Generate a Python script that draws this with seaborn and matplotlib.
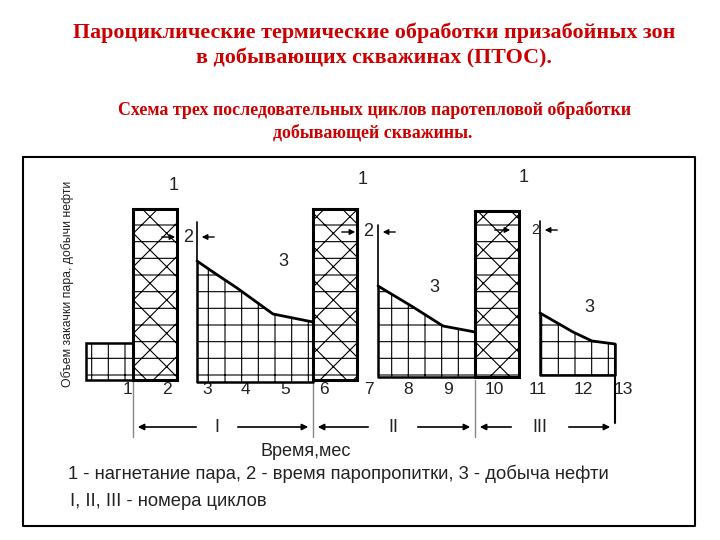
import matplotlib
matplotlib.use("Agg")
import matplotlib.pyplot as plt
import seaborn as sns
import numpy as np

sns.set_theme(style="white")
plt.rcParams['font.family'] = ['Liberation Sans', 'DejaVu Sans']
plt.rcParams['hatch.linewidth'] = 0.8

# ---- data (schematic units: x = time, y = level measured downward on the sheet) ----
title_lines = ["Пароциклические термические обработки призабойных зон",
               "в добывающих скважинах (ПТОС)."]
subtitle_lines = ["Схема трех последовательных циклов паротепловой обработки",
                  "добывающей скважины."]
ylabel = "Объем закачки пара, добычи нефти"
xlabel = "Время,мес"
legend_lines = ["1 - нагнетание пара, 2 - время паропропитки, 3 - добыча нефти",
                "I, II, III - номера циклов"]

# injection bars (1)
inj_left = [133, 313, 475]
inj_right = [177, 357, 519]
inj_top = [209, 209, 211]
inj_base = [380, 380, 377]

# initial production before the first cycle
pre_x = [86, 133]
pre_top = 343
pre_base = 380

# production curves (3)
prod_x = [[197, 213, 237, 273, 313],
          [378, 413, 443, 475],
          [540, 573, 592, 615]]
prod_y = [[261, 272, 288, 314, 322],
          [286, 307, 326, 332],
          [313, 332, 341, 344]]
prod_base = [382, 377, 375]

# soak time markers (2)
soak_x = [197, 378, 540]
soak_top = [222, 225, 221]
soak_arrow_y = [237, 232, 230]

# time ticks
tick_labels = [str(i) for i in range(1, 14)]
tick_x = [127, 167, 207, 245, 285, 324, 369, 408, 448, 494, 538, 583, 623]
tick_y = 390

# cycles
cycle_names = ["I", "II", "III"]
cycle_start = [133, 313, 475]
cycle_end = [313, 475, 615]
cycle_label_x = [217, 393, 540]

# ---- figure ----
fig = plt.figure(figsize=(7.2, 5.4), dpi=100)
ax = fig.add_axes([0, 0, 1, 1])
ax.set_xlim(0, 720)
ax.set_ylim(540, 0)
ax.axis('off')

red = '#cc0000'
serif = ['Liberation Serif', 'DejaVu Serif']
ax.text(374, 33, title_lines[0], ha='center', va='center', color=red,
        fontsize=15.8, fontweight='bold', family=serif)
ax.text(374, 58, title_lines[1], ha='center', va='center', color=red,
        fontsize=15.8, fontweight='bold', family=serif)
ax.text(375, 110, subtitle_lines[0], ha='center', va='center', color=red,
        fontsize=12.9, fontweight='bold', family=serif)
ax.text(373, 133, subtitle_lines[1], ha='center', va='center', color=red,
        fontsize=12.9, fontweight='bold', family=serif)

# frame
ax.plot([23, 695, 695, 23, 23], [157, 157, 526, 526, 157], color='black', lw=1.5)

# pre-cycle production
ax.bar(pre_x[0], pre_base - pre_top, width=pre_x[1] - pre_x[0], bottom=pre_top,
       align='edge', facecolor='white', edgecolor='black', hatch='+', linewidth=1.8)

# injection bars
for l, r, t, b in zip(inj_left, inj_right, inj_top, inj_base):
    ax.bar(l, b - t, width=r - l, bottom=t, align='edge', facecolor='white',
           edgecolor='black', hatch='x-', linewidth=2.2, zorder=3)

# production areas
for xs, ys, b in zip(prod_x, prod_y, prod_base):
    ax.fill_between(xs, ys, b, facecolor='white', edgecolor='black', hatch='+',
                    linewidth=0, zorder=2)
    sns.lineplot(x=xs, y=ys, ax=ax, color='black', lw=2, sort=False,
                 estimator=None, zorder=4)
    ax.plot([xs[0], xs[0], xs[-1], xs[-1]], [ys[0], b, b, ys[-1]],
            color='black', lw=1.8, zorder=4)

# soak markers
lab_fs = [13, 13, 10]
for i, (sx, st, ay) in enumerate(zip(soak_x, soak_top, soak_arrow_y)):
    ax.plot([sx, sx], [st, prod_y[i][0]], color='black', lw=1.2, zorder=4)
    bar_r = inj_right[i]
    ax.annotate('', xy=(bar_r + 1 if i < 2 else bar_r - 6, ay),
                xytext=(bar_r - 18 if i < 2 else bar_r - 27, ay),
                arrowprops=dict(arrowstyle='-|>', color='black', lw=1,
                                mutation_scale=8), zorder=5)
    ax.text((bar_r + sx) / 2 + (1 if i < 2 else 6), ay, '2', ha='center',
            va='center', fontsize=lab_fs[i], color='#222222', zorder=5)
    ax.annotate('', xy=(sx + 2, ay), xytext=(sx + 20, ay),
                arrowprops=dict(arrowstyle='-|>', color='black', lw=1,
                                mutation_scale=8), zorder=5)

# labels 1 and 3
for x, y in zip([174, 363, 524], [186, 180, 178]):
    ax.text(x, y, '1', ha='center', va='center', fontsize=13, color='#222222')
for x, y in zip([283, 434, 589], [262, 287, 308]):
    ax.text(x, y, '3', ha='center', va='center', fontsize=13, color='#222222')

# y label
ax.text(68, 284, ylabel, rotation=90, ha='center', va='center', fontsize=8.8,
        color='#222222')

# time ticks
for x, s in zip(tick_x, tick_labels):
    ax.text(x, tick_y, s, ha='center', va='center', fontsize=12.5, color='#222222')

# cycle separators and arrows
for x in cycle_start:
    ax.plot([x, x], [380, 437], color='#888888', lw=1, zorder=1)
ax.plot([cycle_end[-1]] * 2, [prod_y[-1][-1], 423], color='black', lw=1.5, zorder=4)

arrow_y = 427
for s, e, lx, name in zip(cycle_start, cycle_end, cycle_label_x, cycle_names):
    gap = 8 + 4 * len(name)
    ax.annotate('', xy=(s + 2, arrow_y), xytext=(lx - gap - 6, arrow_y),
                arrowprops=dict(arrowstyle='-|>', color='black', lw=1.2,
                                mutation_scale=9))
    ax.annotate('', xy=(e - 2, arrow_y), xytext=(lx + gap + 6, arrow_y),
                arrowprops=dict(arrowstyle='-|>', color='black', lw=1.2,
                                mutation_scale=9))
    ax.text(lx, arrow_y, name, ha='center', va='center', fontsize=13,
            color='#222222')

ax.text(306, 451, xlabel, ha='center', va='center', fontsize=13, color='#222222')
ax.text(68, 474, legend_lines[0], ha='left', va='center', fontsize=13.2, color='#222222')
ax.text(70, 502, legend_lines[1], ha='left', va='center', fontsize=13.2, color='#222222')

fig.savefig('out.png', dpi=100)
